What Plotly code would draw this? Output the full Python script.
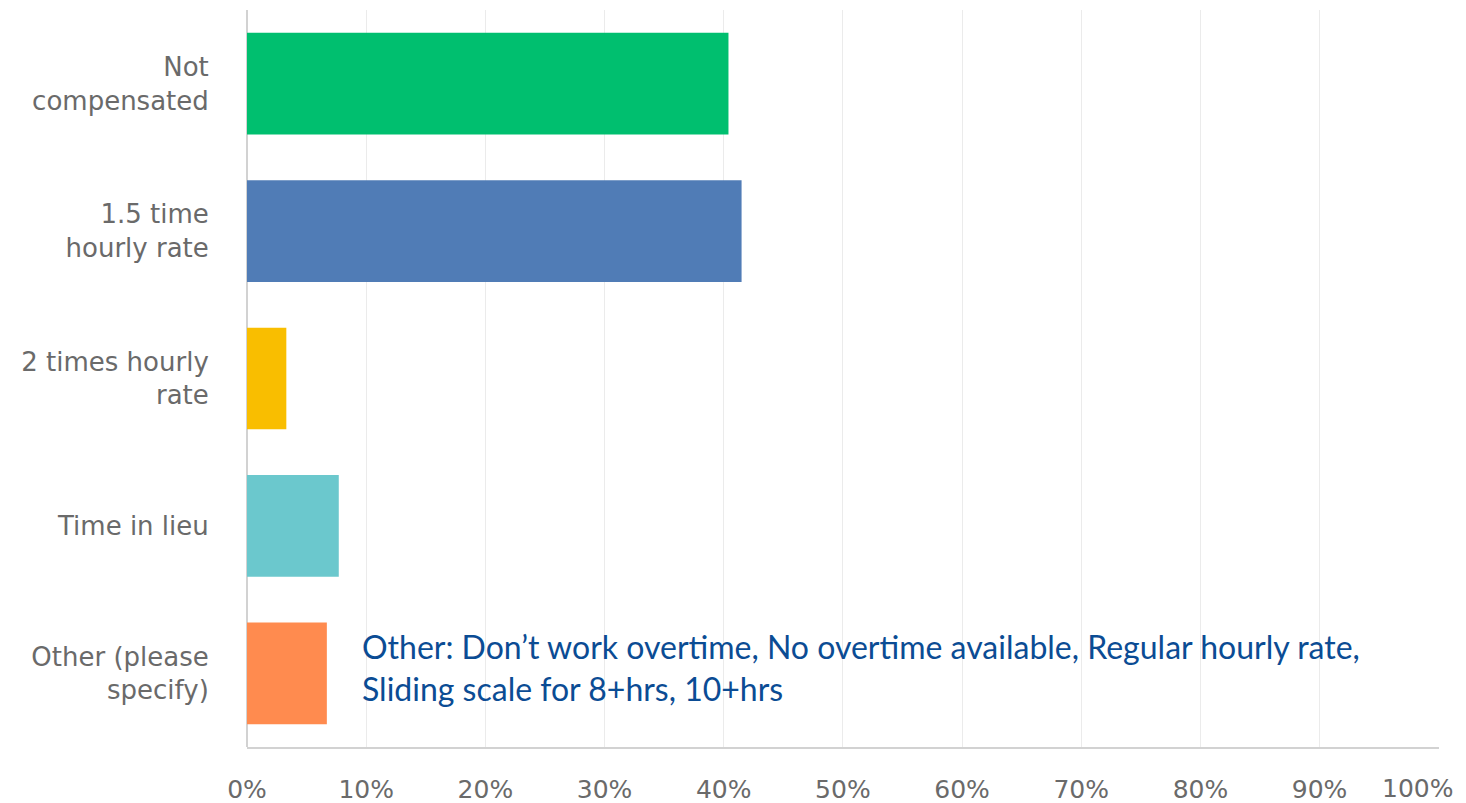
import plotly.graph_objects as go

categories = ["Not<br>compensated", "1.5 time<br>hourly rate", "2 times hourly<br>rate",
              "Time in lieu", "Other (please<br>specify)"]
values = [40.4, 41.5, 3.3, 7.7, 6.7]
colors = ["#00bf6f", "#507cb6", "#f9be00", "#6bc8cd", "#ff8b4f"]
tick_vals = [0, 10, 20, 30, 40, 50, 60, 70, 80, 90]
tick_text = ["0%", "10%", "20%", "30%", "40%", "50%", "60%", "70%", "80%", "90%"]
end_tick_val = [100]
end_tick_text = ["100%"]
note = ("Other: Don\u2019t work overtime, No overtime available, Regular hourly rate,<br>"
        "Sliding scale for 8+hrs, 10+hrs")

fig = go.Figure()
fig.add_trace(go.Bar(
    x=values, y=categories, orientation="h",
    marker=dict(color=colors, line=dict(width=0)),
    hoverinfo="skip",
))
# invisible helper trace so the secondary (end-label) axis is drawn
fig.add_trace(go.Scatter(
    x=values, y=categories, xaxis="x2", mode="markers",
    marker=dict(opacity=0), hoverinfo="skip", showlegend=False,
))

fig.update_layout(
    width=1466, height=803,
    margin=dict(l=239, r=35, t=2, b=64),
    paper_bgcolor="white", plot_bgcolor="white",
    bargap=0.31,
    showlegend=False,
    font=dict(family="DejaVu Sans", color="#6a6a6a"),
    xaxis=dict(
        range=[0, 100.02], tickvals=tick_vals + end_tick_val,
        ticktext=tick_text + [""],
        showgrid=True, gridcolor="#ebebeb", gridwidth=1,
        zeroline=True, zerolinecolor="#d2d2d2", zerolinewidth=2,
        showline=True, linecolor="#d2d2d2", linewidth=2,
        ticks="outside", ticklen=19, tickcolor="rgba(0,0,0,0)",
        tickfont=dict(size=25, color="#6a6a6a"),
        automargin=False, fixedrange=True,
    ),
    xaxis2=dict(
        overlaying="x", side="bottom", anchor="y",
        range=[0, 100.02], tickvals=end_tick_val, ticktext=end_tick_text,
        showgrid=False, zeroline=False, showline=False,
        ticks="outside", ticklen=19, tickcolor="rgba(0,0,0,0)",
        tickfont=dict(size=25, color="#6a6a6a"),
        ticklabelshift=-21, ticklabeloverflow="allow",
        automargin=False, fixedrange=True,
    ),
    yaxis=dict(
        autorange="reversed", showgrid=False,
        ticks="outside", ticklen=32, tickcolor="rgba(0,0,0,0)",
        tickfont=dict(size=26, color="#6a6a6a"),
        automargin=False, fixedrange=True,
    ),
)
fig.add_annotation(
    x=9.5, y=categories[4], xref="x", yref="y",
    text=note, showarrow=False, xanchor="left", yanchor="middle",
    align="left", yshift=6,
    font=dict(family="Lato", size=32, color="#0b4c94"),
)

fig.write_html("out.html")
